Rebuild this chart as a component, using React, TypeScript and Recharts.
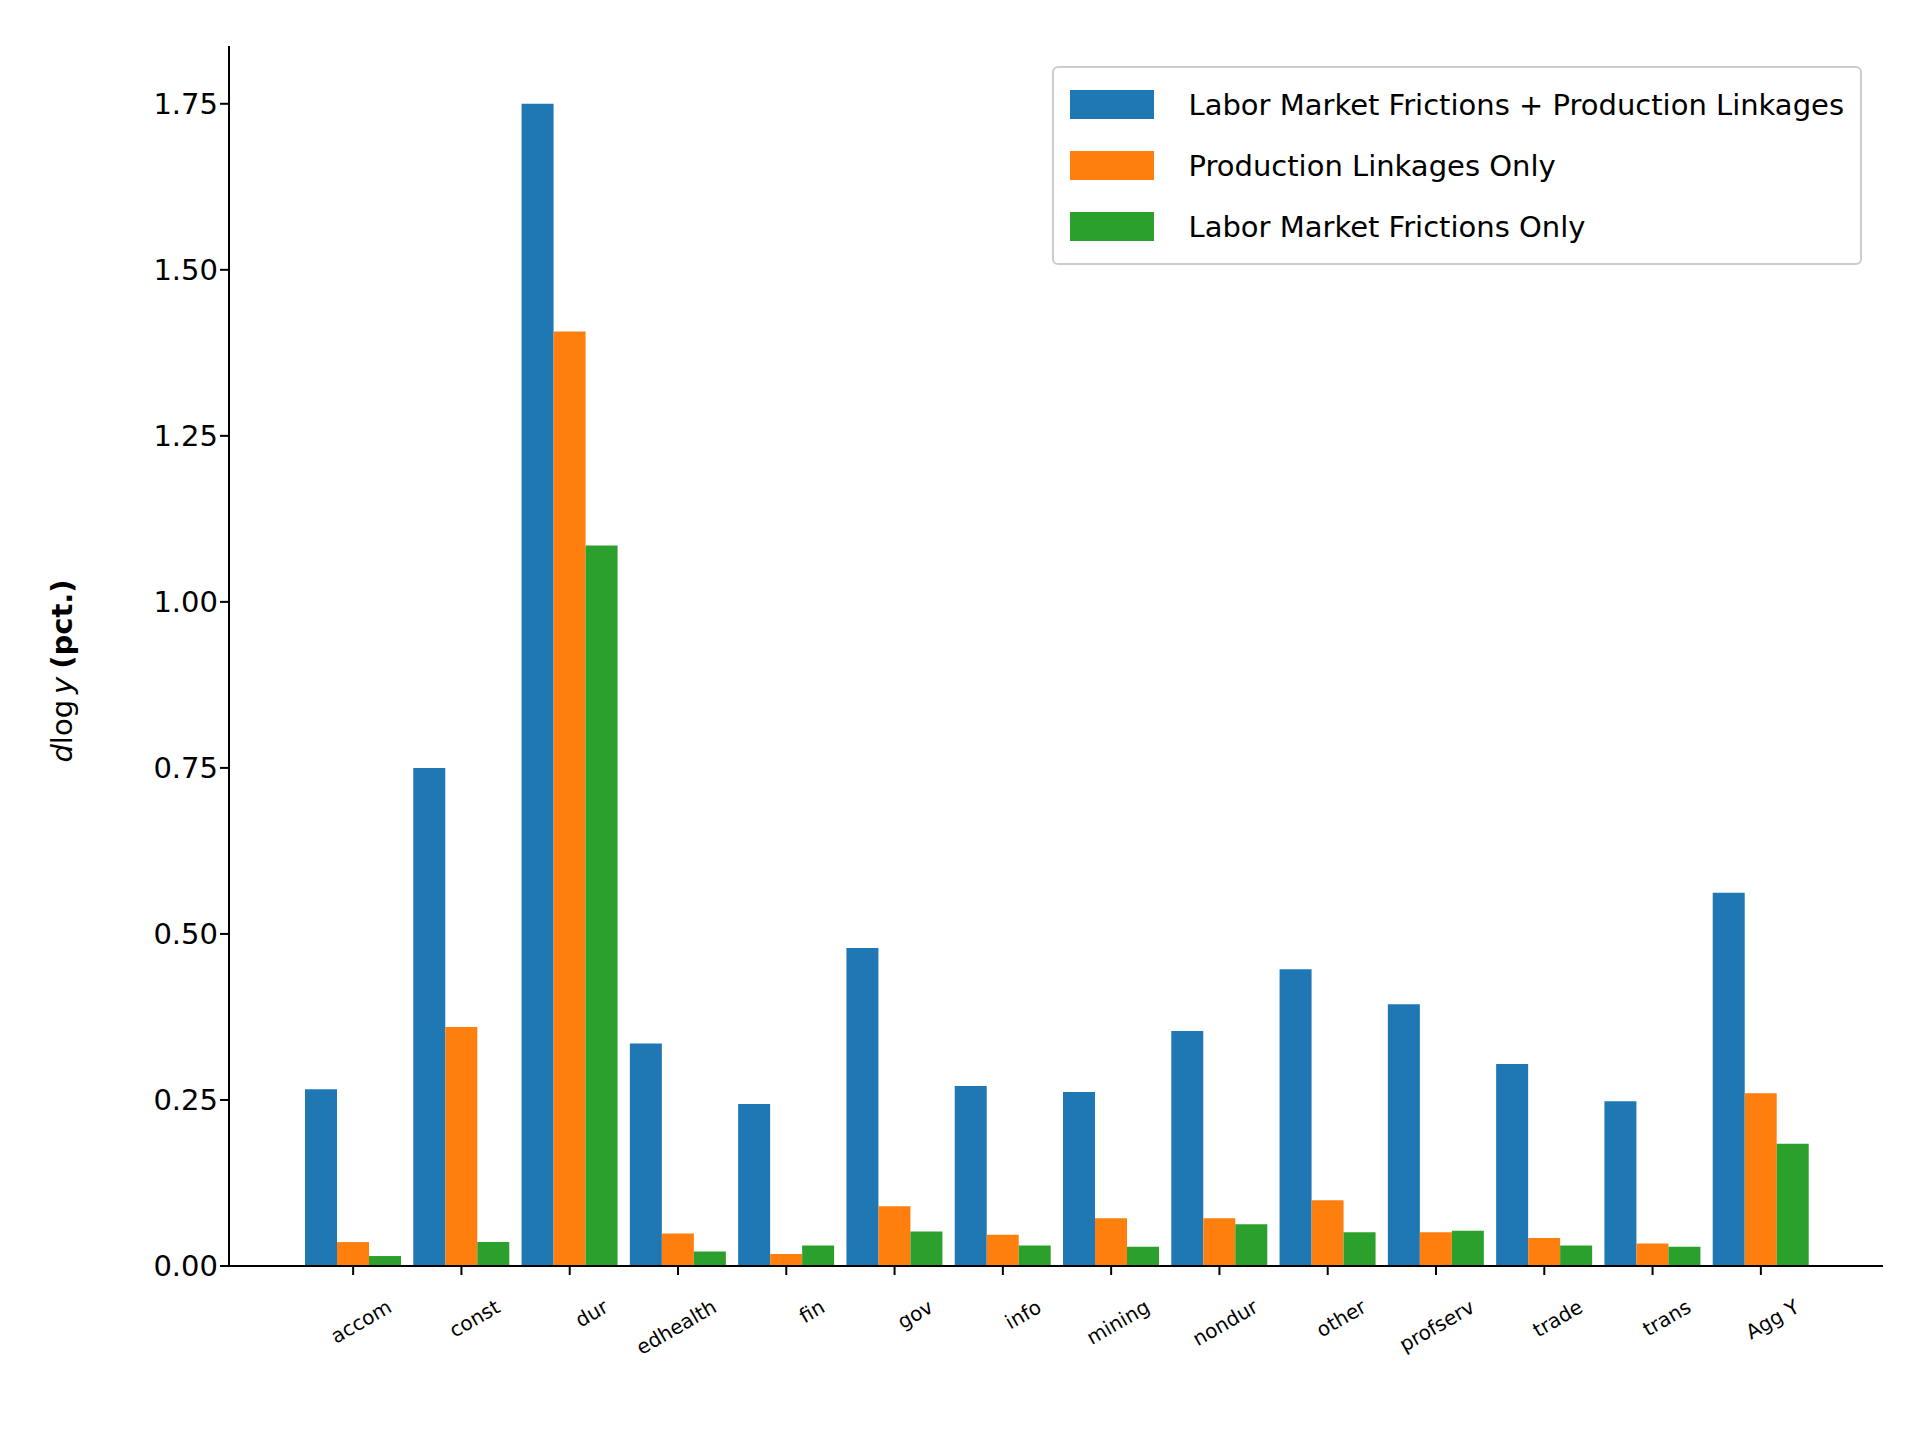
import { BarChart, Bar, XAxis, YAxis } from "recharts"

const sectors = ["accom", "const", "dur", "edhealth", "fin", "gov", "info", "mining", "nondur", "other", "profserv", "trade", "trans", "Agg Y"]
const both = [0.266, 0.75, 1.75, 0.335, 0.244, 0.479, 0.271, 0.262, 0.354, 0.447, 0.394, 0.304, 0.248, 0.562]
const prodOnly = [0.036, 0.36, 1.407, 0.049, 0.018, 0.09, 0.047, 0.072, 0.072, 0.099, 0.051, 0.042, 0.034, 0.26]
const laborOnly = [0.015, 0.036, 1.085, 0.022, 0.031, 0.052, 0.031, 0.029, 0.063, 0.051, 0.053, 0.031, 0.029, 0.184]
const yTicks = [0, 0.25, 0.5, 0.75, 1.0, 1.25, 1.5, 1.75]

const series = [
  { key: "both", name: "Labor Market Frictions + Production Linkages", color: "#1f77b4" },
  { key: "prod", name: "Production Linkages Only", color: "#ff7f0e" },
  { key: "labor", name: "Labor Market Frictions Only", color: "#2ca02c" },
]

const data = sectors.map((s, i) => ({ name: s, both: both[i], prod: prodOnly[i], labor: laborOnly[i] }))

const font = "DejaVu Sans"

function LegendBox() {
  return (
    <div style={{ position: "absolute", top: 66, right: 58, border: "2px solid #ccc", borderRadius: 6, background: "rgba(255,255,255,0.8)", padding: "6px 16px 6px 16px", fontFamily: font, fontSize: 29 }}>
      {series.map((s) => (
        <div key={s.key} style={{ display: "flex", alignItems: "center", height: 61 }}>
          <div style={{ width: 84, height: 29, background: s.color, marginRight: 34 }} />
          <span>{s.name}</span>
        </div>
      ))}
    </div>
  )
}

function XTick(props: any) {
  const { x, y, payload } = props
  const ax = x + 40
  const ay = y + 34
  return (
    <text x={ax} y={ay} textAnchor="end" fontFamily={font} fontSize={20} transform={`rotate(-30, ${ax}, ${ay})`}>
      {payload.value}
    </text>
  )
}

function YLabel() {
  return (
    <text x={0} y={0} transform="translate(72, 671) rotate(-90)" textAnchor="middle" fontFamily={font} fontSize={29}>
      <tspan fontStyle="italic">d</tspan>
      <tspan>log</tspan>
      <tspan fontStyle="italic" dx={6}>y</tspan>
      <tspan fontWeight="bold" dx={8}>(pct.)</tspan>
    </text>
  )
}

export default function App() {
  return (
    <div style={{ position: "relative", width: 1920, height: 1440, background: "#fff", margin: -8 }}>
      <BarChart width={1920} height={1440} data={data} margin={{ top: 46, right: 37, bottom: 144, left: 0 }} barCategoryGap={6} barGap={0}>
        <XAxis dataKey="name" padding={{ left: 70, right: 68 }} tick={<XTick />} tickLine={{ stroke: "#000", strokeWidth: 2 }} tickSize={9} axisLine={{ stroke: "#000", strokeWidth: 2 }} interval={0} />
        <XAxis xAxisId="top" orientation="top" dataKey="name" height={0} tick={false} tickLine={false} axisLine={{ stroke: "#000", strokeWidth: 2 }} />
        <YAxis width={229} domain={[0, 1.837]} ticks={yTicks} allowDataOverflow tickFormatter={(v: number) => v.toFixed(2)} tick={{ fill: "#000", fontFamily: font, fontSize: 29 }} tickLine={{ stroke: "#000", strokeWidth: 2 }} tickSize={9} axisLine={{ stroke: "#000", strokeWidth: 2 }} label={<YLabel />} />
        <YAxis yAxisId="right" orientation="right" width={0} tick={false} tickLine={false} axisLine={{ stroke: "#000", strokeWidth: 2 }} />
        {series.map((s) => (
          <Bar key={s.key} dataKey={s.key} name={s.name} fill={s.color} isAnimationActive={false} />
        ))}
      </BarChart>
      <LegendBox />
    </div>
  )
}
